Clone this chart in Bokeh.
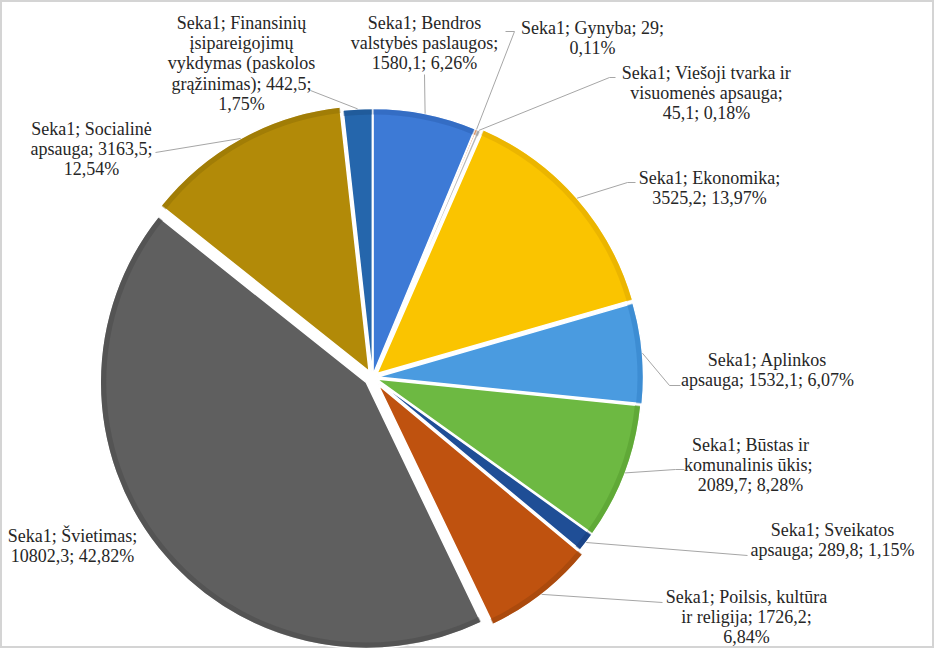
import math
from bokeh.plotting import figure
from bokeh.models import Range1d, ColumnDataSource
from bokeh.embed import file_html
from bokeh.resources import INLINE
from bokeh.core.properties import value

# ---------------- data ----------------
series = "Seka1"
categories = ["Bendros valstybės paslaugos", "Gynyba", "Viešoji tvarka ir visuomenės apsauga",
              "Ekonomika", "Aplinkos apsauga", "Būstas ir komunalinis ūkis", "Sveikatos apsauga",
              "Poilsis, kultūra ir religija", "Švietimas", "Socialinė apsauga",
              "Finansinių įsipareigojimų vykdymas (paskolos grąžinimas)"]
values = [1580.1, 29, 45.1, 3525.2, 1532.1, 2089.7, 289.8, 1726.2, 10802.3, 3163.5, 442.5]

# ---------------- style / layout ----------------
colors = ["#3D7AD6", "#ED7D31", "#B8B8B8", "#FAC400", "#4A9BE0", "#6DB942",
          "#1F4E96", "#BF520F", "#5F5F5F", "#B28A08", "#2566AC"]
rims = ["#2A5DB0", "#B85A1E", "#8C8C8C", "#D9A400", "#2F7CC4", "#4F962B",
        "#153A75", "#93400A", "#474747", "#8C6C04", "#1A4E88"]
explode = [3, 3, 3, 6, 5, 4, 4, 9, 8, 7, 3]
wrapped = ["Bendros\nvalstybės paslaugos", "Gynyba", "Viešoji tvarka ir\nvisuomenės apsauga",
           "Ekonomika", "Aplinkos\napsauga", "Būstas ir\nkomunalinis  ūkis", "Sveikatos\napsauga",
           "Poilsis, kultūra\nir religija", "Švietimas", "Socialinė\napsauga",
           "Finansinių\nįsipareigojimų\nvykdymas (paskolos\ngrąžinimas)"]
sep_val = ["\n", " ", "\n", "\n", " ", "\n", " ", " ", "\n", " ", " "]
sep_pct = [" ", "\n", " ", " ", " ", " ", " ", "\n", " ", "\n", "\n"]
label_pos = [(432, 30), (600, 35), (714, 80), (717, 185), (775, 367), (758, 452),
             (840, 537), (754, 604), (80, 543), (99, 136), (249, 30)]
leaders = [[(432, 82)], [(522, 39), (513, 39)], [(617, 85), (623, 85)],
           [(635, 190), (643, 190)], [(677, 393), (688, 393)], [(683, 477), (692, 477)],
           [(755, 563)], [(670, 610)], None, [(163, 160)], [(318, 98)]]

W, H = 934, 648
def X(x): return x - 8
def Y(y): return H + 8 - y

CX, CY, R = X(380), Y(385), 266
FONT = "Liberation Serif"
FS = 18
LSTEP = 20.4

total = sum(values)

def fmt_val(v):
    s = ("%.1f" % v)
    if s.endswith(".0"):
        s = s[:-2]
    return s.replace(".", ",")

def fmt_pct(v):
    return ("%.2f" % (100.0 * v / total)).replace(".", ",") + "%"

starts, ends, mids, xs, ys = [], [], [], [], []
acc = 0.0
for v, e in zip(values, explode):
    t0 = acc / total * 2 * math.pi
    acc += v
    t1 = acc / total * 2 * math.pi
    tm = (t0 + t1) / 2
    starts.append(math.pi / 2 - t0)
    ends.append(math.pi / 2 - t1)
    mids.append(tm)
    xs.append(CX + e * math.sin(tm))
    ys.append(CY + e * math.cos(tm))

src = ColumnDataSource(dict(x=xs, y=ys, start=starts, end=ends, color=colors, rim=rims))

p = figure(width=W, height=H, x_range=Range1d(0, W), y_range=Range1d(0, H),
           output_backend="svg", toolbar_location=None, min_border=0,
           x_axis_type=None, y_axis_type=None)
p.grid.visible = False
p.background_fill_color = "white"
p.border_fill_color = "white"
p.outline_line_color = "#D4D4D4"
p.outline_line_width = 3

p.wedge(x="x", y="y", radius=R, start_angle="start", end_angle="end", direction="clock",
        fill_color="color", line_color="white", line_width=1.5, source=src)
p.annular_wedge(x="x", y="y", inner_radius=R - 6, outer_radius=R - 0.8, start_angle="start",
                end_angle="end", direction="clock", fill_color="rim", fill_alpha=0.45,
                line_color=None, source=src)

lx, ly = [], []
for i, pts in enumerate(leaders):
    if not pts:
        continue
    tm = mids[i]
    rr = R + explode[i]
    lx.append([CX + rr * math.sin(tm)] + [X(a) for a, b in pts])
    ly.append([CY + rr * math.cos(tm)] + [Y(b) for a, b in pts])
p.multi_line(xs=lx, ys=ly, line_color="#A6A6A6", line_width=1)

tx, ty, tt = [], [], []
for i, v in enumerate(values):
    label = f"{series}; {wrapped[i]};{sep_val[i]}{fmt_val(v)};{sep_pct[i]}{fmt_pct(v)}"
    ax, ay = label_pos[i]
    for k, line in enumerate(label.split("\n")):
        tx.append(X(ax))
        ty.append(Y(ay + k * LSTEP))
        tt.append(line)
lsrc = ColumnDataSource(dict(x=tx, y=ty, text=tt))
p.text(x="x", y="y", text="text", source=lsrc, text_font=value(FONT),
       text_font_size=f"{FS}px", text_align="center", text_baseline="middle",
       text_color="#262626")

open("out.html", "w").write(file_html(p, INLINE))
